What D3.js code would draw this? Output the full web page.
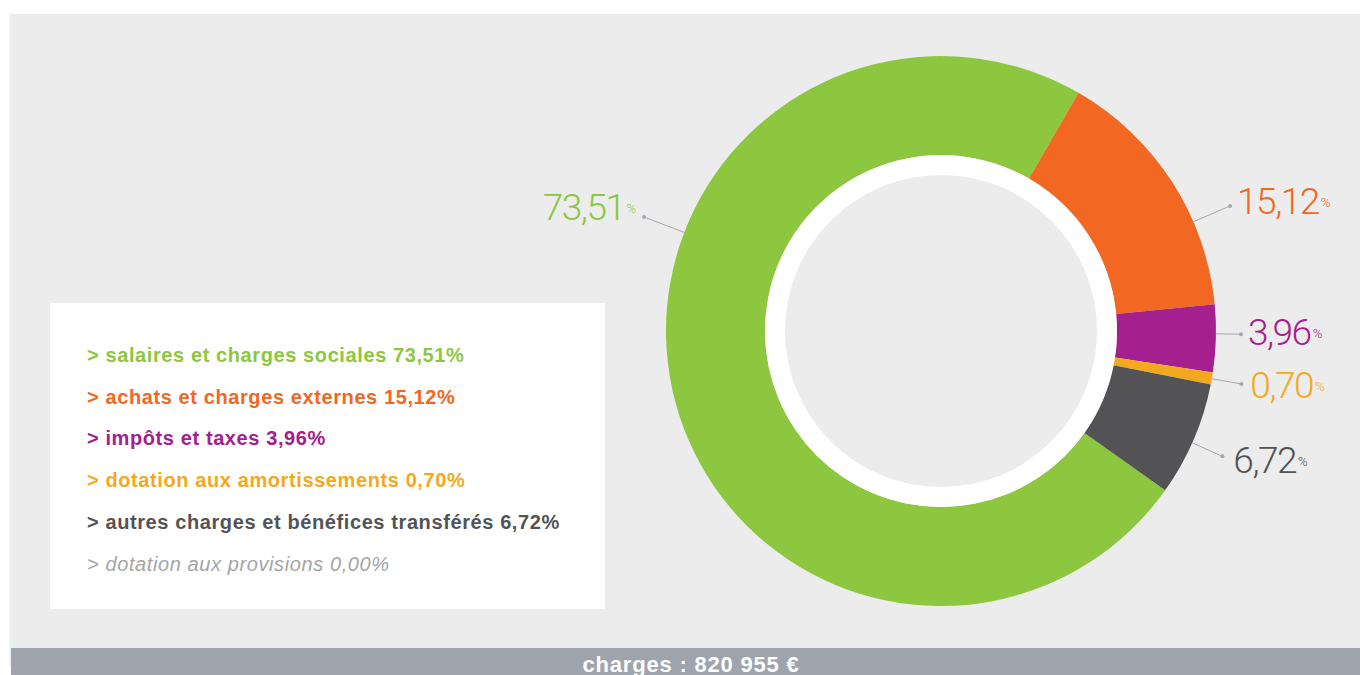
<!DOCTYPE html>
<html>
<head>
<meta charset="utf-8">
<script src="https://cdn.jsdelivr.net/npm/d3@7"></script>
<style>
  html, body { margin: 0; padding: 0; background: #fff; }
  svg { display: block; }
</style>
</head>
<body>
<script>
// data
let names = ["salaires et charges sociales", "achats et charges externes", "impôts et taxes",
             "dotation aux amortissements", "autres charges et bénéfices transférés", "dotation aux provisions"];
let values = [73.51, 15.12, 3.96, 0.70, 6.72, 0.00];
let colors = ["#8dc63f", "#f26722", "#a4208e", "#f4a81d", "#535355", "#a3a5a8"];
let total_label = "charges : 820 955 €";

// label layout: angle (deg, clockwise from top) of the leader, length, text nudge
let label_angle = [291, 66.6, 90.6, 100, 114];
let label_len = [43, 40, 25, 30, 33];
let label_nudge = [[-8, 3], [7, 8], [7, 11], [9, 14], [11, 17]];

let width = 1360, height = 675;
let cx = 941, cy = 331;
let r_outer = 275, r_inner = 176, r_hole = 156;
let start = (125.4 - 360) * Math.PI / 180;

let fmt = v => d3.format(".2f")(v).replace(".", ",");

let svg = d3.select("body")
  .append("svg")
    .attr("width", width)
    .attr("height", height);

// panel + bottom bar
svg.append("rect").attr("x", 9).attr("y", 14).attr("width", width - 9).attr("height", 653).attr("fill", "#f0f1f0");
svg.append("rect").attr("x", 11).attr("y", 14).attr("width", width - 11).attr("height", 634).attr("fill", "#ebeceb");
svg.append("rect").attr("x", 11).attr("y", 648).attr("width", width - 11).attr("height", 27).attr("fill", "#9ea4ae");
svg.append("text").text(total_label)
  .attr("x", 691).attr("y", 672)
  .attr("text-anchor", "middle")
  .attr("font-family", "Liberation Sans, Arial, sans-serif")
  .attr("font-weight", "bold").attr("font-size", 22)
  .attr("letter-spacing", 0.8)
  .attr("fill", "#fff");

// donut
let slices = values.slice(0, 5).map((v, i) => ({ v: v, i: i }));
let pie = d3.pie().sort(null).value(d => d.v)
  .startAngle(start).endAngle(start + 2 * Math.PI);
let arc = d3.arc().innerRadius(r_inner).outerRadius(r_outer);

let g = svg.append("g").attr("transform", `translate(${cx},${cy})`);
g.selectAll("path")
  .data(pie(slices))
  .join("path")
    .attr("d", arc)
    .attr("fill", d => colors[d.data.i]);
g.append("circle").attr("r", r_inner).attr("fill", "#fff");
g.append("circle").attr("r", r_hole).attr("fill", "#ebeceb");

// leaders and labels
slices.forEach((d, i) => {
  let a = label_angle[i] * Math.PI / 180;
  let x1 = Math.sin(a) * r_outer, y1 = -Math.cos(a) * r_outer;
  let x2 = Math.sin(a) * (r_outer + label_len[i]), y2 = -Math.cos(a) * (r_outer + label_len[i]);
  g.append("line")
    .attr("x1", x1).attr("y1", y1).attr("x2", x2).attr("y2", y2)
    .attr("stroke", "#a3a8b3").attr("stroke-width", 1);
  g.append("circle").attr("cx", x2).attr("cy", y2).attr("r", 2).attr("fill", "#a3a8b3");
  let left = x2 < 0;
  let t = g.append("text")
    .attr("x", x2 + label_nudge[i][0]).attr("y", y2 + label_nudge[i][1])
    .attr("text-anchor", left ? "end" : "start")
    .attr("font-family", "Roboto, sans-serif")
    .attr("font-weight", 300)
    .attr("fill", colors[i]);
  t.append("tspan").text(fmt(d.v)).attr("font-size", 37).attr("letter-spacing", -1.5);
  t.append("tspan").text("%").attr("font-size", 13).attr("dy", -7).attr("dx", 2);
});

// legend
svg.append("rect").attr("x", 50).attr("y", 303).attr("width", 555).attr("height", 306).attr("fill", "#fff");
svg.append("g").selectAll("text")
  .data(names)
  .join("text")
    .attr("x", 87)
    .attr("y", (d, i) => 362 + i * 41.7)
    .attr("font-family", "Liberation Sans, Arial, sans-serif")
    .attr("font-size", 20)
    .attr("letter-spacing", 0.6)
    .attr("font-weight", (d, i) => values[i] > 0 ? "bold" : "normal")
    .attr("font-style", (d, i) => values[i] > 0 ? "normal" : "italic")
    .attr("fill", (d, i) => colors[i])
    .text((d, i) => "> " + d + " " + fmt(values[i]) + "%");
</script>
</body>
</html>
